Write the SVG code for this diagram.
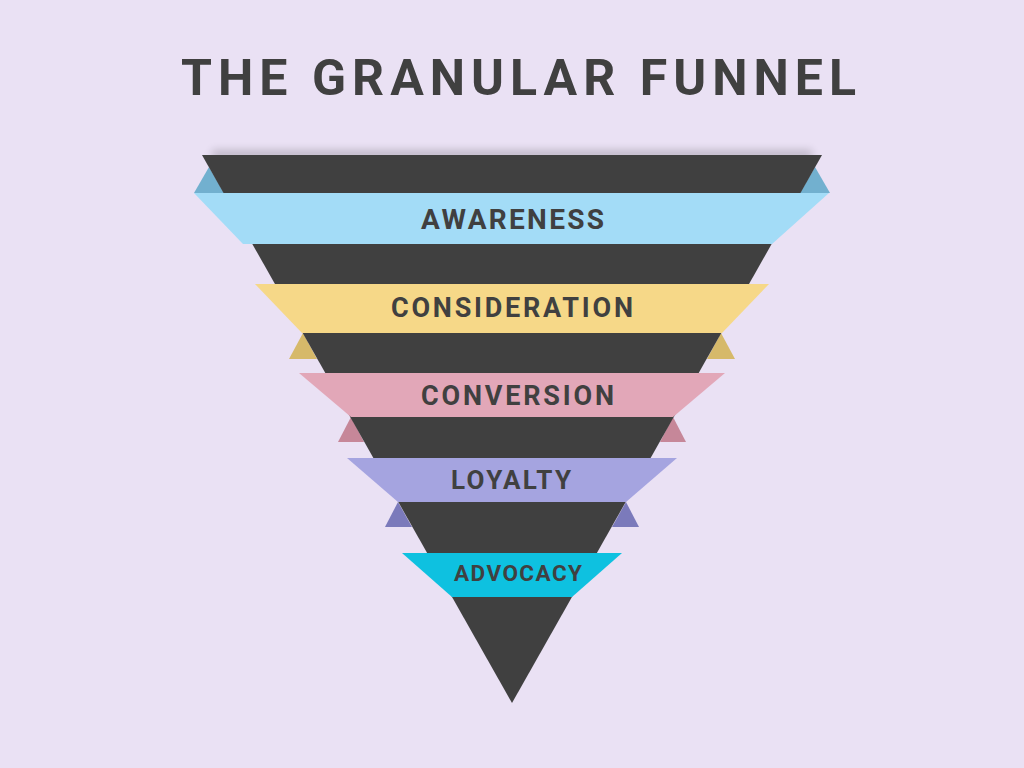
<svg xmlns="http://www.w3.org/2000/svg" width="1024" height="768" viewBox="0 0 1024 768">
<defs>
<style>
.lbl{font-family:Roboto,"Liberation Sans",Arial,sans-serif;font-weight:bold;fill:#404040;text-anchor:middle}
.title{font-family:Roboto,"Liberation Sans",Arial,sans-serif;font-weight:bold;fill:#404040;text-anchor:middle;font-size:50px}
.funnel{fill:#404040}
</style>
<filter id="blur" x="-10%" y="-200%" width="120%" height="500%">
<feGaussianBlur stdDeviation="4"/>
</filter>
</defs>
<rect width="1024" height="768" fill="#EAE1F4"/>
<text class="title" x="518.5" y="95" textLength="675" lengthAdjust="spacing">THE GRANULAR FUNNEL</text>

<g id="folds">
<polygon points="194,193 209,167 224,193" fill="#72B0CF"/>
<polygon points="830,193 815,167 800,193" fill="#72B0CF"/>
<polygon points="289,359 303,333 317,359" fill="#D6B96A"/>
<polygon points="735,359 721,333 707,359" fill="#D6B96A"/>
<polygon points="338,442 351,417 364,442" fill="#C68799"/>
<polygon points="686,442 673,417 660,442" fill="#C68799"/>
<polygon points="385,527 398,502 412,527" fill="#7B7ABB"/>
<polygon points="639,527 626,502 612,527" fill="#7B7ABB"/>
</g>

<g id="funnel">
<rect x="212" y="150" width="600" height="10" fill="#000" opacity="0.18" filter="url(#blur)"/>
<polygon class="funnel" points="202,155 822,155 512,703"/>
</g>

<g id="awareness">
<polygon points="194,193 829,193 772,244 243,244" fill="#A3DCF7"/>
<text class="lbl" x="512.5" y="228.5" font-size="28" textLength="183" lengthAdjust="spacing">AWARENESS</text>
</g>
<g id="consideration">
<polygon points="255,284 769,284 722,333 302,333" fill="#F6D888"/>
<text class="lbl" x="512" y="317.3" font-size="27" textLength="242" lengthAdjust="spacing">CONSIDERATION</text>
</g>
<g id="conversion">
<polygon points="299,373 725,373 673,417 351,417" fill="#E2A7B8"/>
<text class="lbl" x="517.5" y="404.7" font-size="27" textLength="193" lengthAdjust="spacing">CONVERSION</text>
</g>
<g id="loyalty">
<polygon points="347,458 677,458 626,502 398,502" fill="#A5A4E0"/>
<text class="lbl" x="511" y="488.7" font-size="26" textLength="120" lengthAdjust="spacing">LOYALTY</text>
</g>
<g id="advocacy">
<polygon points="402,553 622,553 572,597 452,597" fill="#0EC1E0"/>
<text class="lbl" x="518" y="580.7" font-size="22.5" textLength="128" lengthAdjust="spacing">ADVOCACY</text>
</g>
</svg>
